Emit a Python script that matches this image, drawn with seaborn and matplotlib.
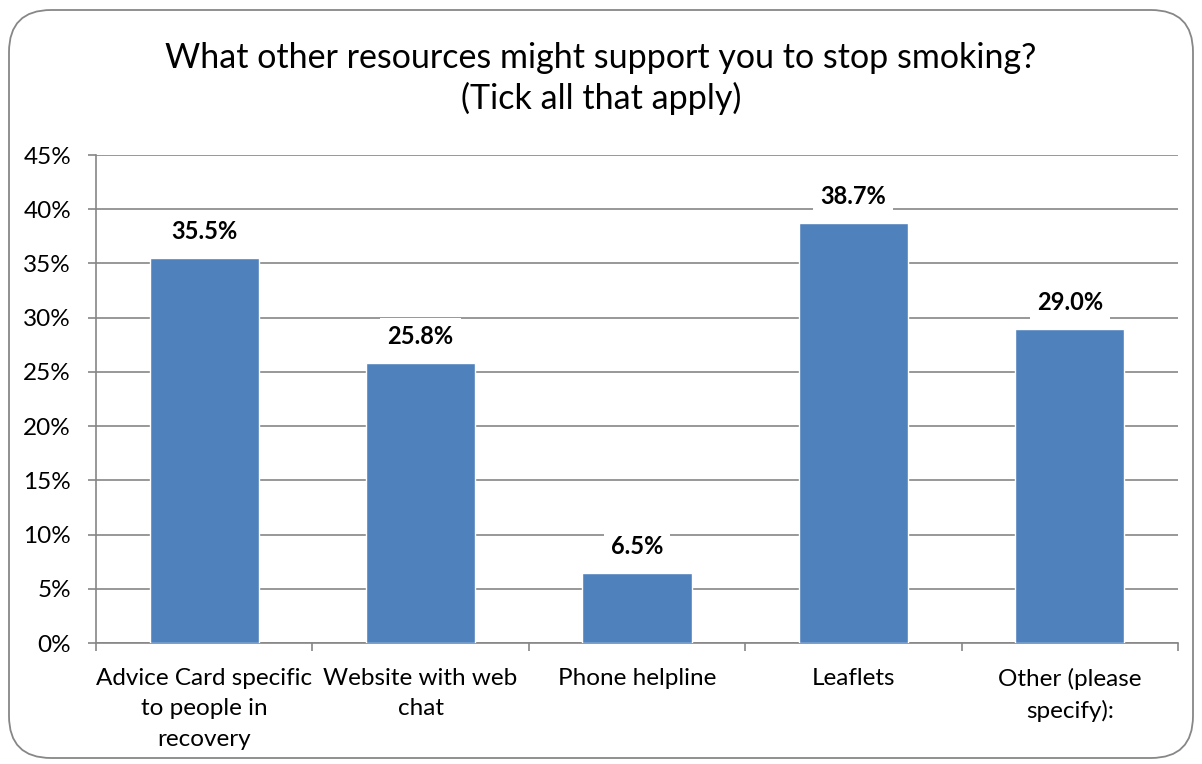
import matplotlib
matplotlib.use("Agg")
import matplotlib.pyplot as plt
from matplotlib.patches import FancyBboxPatch
from matplotlib.ticker import PercentFormatter, FixedLocator
import seaborn as sns
import pandas as pd

# Survey responses
categories = [
    "Advice Card specific\nto people in\nrecovery",
    "Website with web\nchat",
    "Phone helpline",
    "Leaflets",
    "Other (please\nspecify):",
]
percentages = [35.5, 25.8, 6.5, 38.7, 29.0]
y_ticks = [0, 5, 10, 15, 20, 25, 30, 35, 40, 45]

title = "What other resources might support you to stop smoking?\n(Tick all that apply)"

bar_color = "#4F81BD"
grid_color = "#868686"

sns.set_theme(style="white")
plt.rcParams["font.family"] = ["Lato", "DejaVu Sans"]

df = pd.DataFrame({"resource": categories, "pct": percentages})

fig = plt.figure(figsize=(12.02, 7.64), dpi=100)
ax = fig.add_axes([96 / 1202, 1 - 643 / 764, (1178 - 96) / 1202, (643 - 155) / 764])

# Rounded chart frame
frame = FancyBboxPatch((9 / 1202, 6 / 764), 1184 / 1202, 748 / 764,
                       boxstyle="round,pad=0,rounding_size=0.035",
                       transform=fig.transFigure, facecolor="white",
                       edgecolor="#878787", linewidth=1.3, zorder=-10,
                       mutation_aspect=1202 / 764)
fig.patches.append(frame)

sns.barplot(data=df, x="resource", y="pct", color=bar_color, saturation=1,
            width=0.505, ax=ax, zorder=3)

ax.set_ylim(0, 45)
ax.set_xlim(-0.5, len(categories) - 0.5)
ax.yaxis.set_major_locator(FixedLocator(y_ticks))
ax.yaxis.set_major_formatter(PercentFormatter(decimals=0))
ax.grid(axis="y", color=grid_color, linewidth=1.2, zorder=0)
ax.grid(axis="x", visible=False)
ax.set_axisbelow(True)

for side in ["top", "right"]:
    ax.spines[side].set_visible(False)
for side in ["left", "bottom"]:
    ax.spines[side].set_color(grid_color)
    ax.spines[side].set_linewidth(1.2)

ax.set_xlabel("")
ax.set_ylabel("")
ax.tick_params(axis="y", which="major", left=True, length=6, width=1.2,
               color=grid_color, pad=12, labelsize=17.5, labelcolor="black")
ax.tick_params(axis="x", which="major", bottom=False, length=0, pad=18,
               labelsize=17.5, labelcolor="black")
ax.set_xticks([i - 0.5 for i in range(len(categories) + 1)], minor=True)
ax.tick_params(axis="x", which="minor", bottom=True, length=6, width=1.2,
               color=grid_color)
for lbl in ax.get_xticklabels():
    lbl.set_linespacing(1.55)

# Value labels above the bars
for i, v in enumerate(percentages):
    ax.annotate(f"{v:.1f}%", xy=(i, v), xytext=(0, 19), textcoords="offset points",
                ha="center", va="center", fontsize=17, fontweight="bold",
                color="black", zorder=5,
                bbox=dict(boxstyle="square,pad=0.3", facecolor="white",
                          edgecolor="none"))

fig.text(0.5, 1 - 78.5 / 764, title, ha="center", va="center", fontsize=24.5,
         linespacing=1.32, color="black")

fig.savefig("out.png", dpi=100)
